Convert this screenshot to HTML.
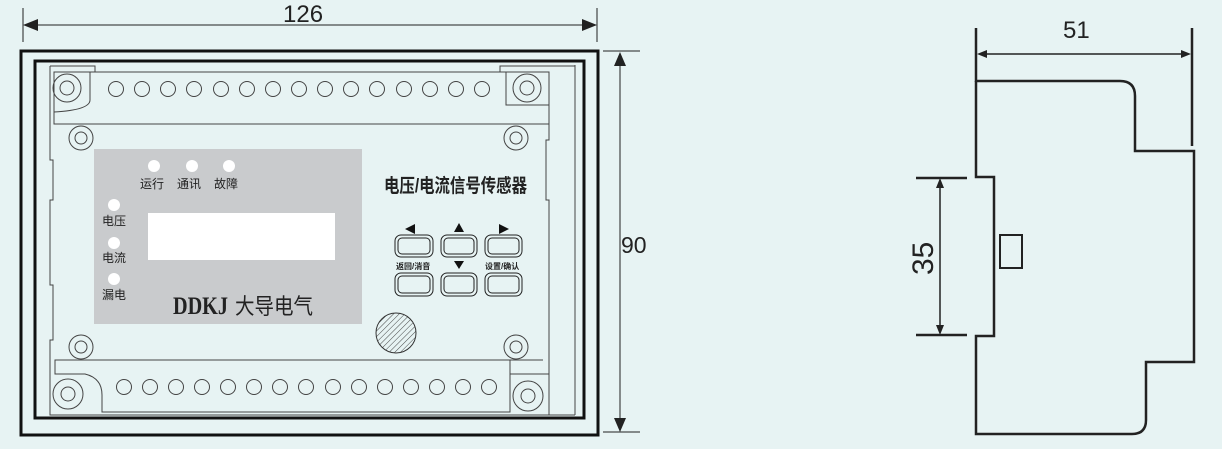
<!DOCTYPE html>
<html><head><meta charset="utf-8"><style>
html,body{margin:0;padding:0;background:#e7f3f3;}
svg{display:block;}
text{font-family:"Liberation Sans","Noto Sans CJK SC",sans-serif;fill:#222;}
</style></head><body>
<svg width="1222" height="449" viewBox="0 0 1222 449" xmlns="http://www.w3.org/2000/svg">
<defs>
<pattern id="h" width="4" height="4" patternUnits="userSpaceOnUse" patternTransform="rotate(45)">
<line x1="0" y1="0" x2="0" y2="4" stroke="#333" stroke-width="0.9"/>
</pattern>
</defs>
<rect width="1222" height="449" fill="#e7f3f3"/>
<g stroke="#222" fill="none">
<line x1="23" y1="8" x2="23" y2="42" stroke-width="1"/>
<line x1="597" y1="8" x2="597" y2="42" stroke-width="1"/>
<line x1="30" y1="25" x2="590" y2="25" stroke-width="1"/>
</g>
<polygon points="23,25 38,19 38,31" fill="#222"/>
<polygon points="597,25 582,19 582,31" fill="#222"/>
<text x="283" y="22" font-size="24">126</text>
<g stroke="#222" fill="none" stroke-width="1">
<line x1="603" y1="51" x2="640" y2="51"/>
<line x1="603" y1="432" x2="640" y2="432"/>
<line x1="620" y1="60" x2="620" y2="423"/>
</g>
<polygon points="620,52 614,66 626,66" fill="#222"/>
<polygon points="620,432 614,418 626,418" fill="#222"/>
<text x="621" y="253" font-size="23">90</text>
<rect x="21" y="51" width="577" height="384" fill="none" stroke="#111" stroke-width="3"/>
<rect x="35" y="61" width="549" height="357" fill="none" stroke="#111" stroke-width="3"/>
<g stroke="#444" fill="none" stroke-width="1">
<line x1="575" y1="65" x2="575" y2="415"/>
<path d="M50,66 L95,66 L95,72 L500,72 L500,66 L575,66"/>
<path d="M50,66 L50,160 L53,160 L53,200 L50,200 L50,285 L53,285 L53,340 L50,340 L50,415 L575,415"/>
<path d="M549,72 L549,140 L546,140 L546,200 L549,200 L549,415"/>
<rect x="54" y="72" width="495" height="52"/>
<path d="M54,72 L54,112 Q90,110 90,100 L90,72"/>
<path d="M506,72 L506,105 L549,105"/>
<circle cx="67" cy="88" r="14"/><circle cx="67" cy="88" r="7"/>
<circle cx="527" cy="88" r="14"/><circle cx="527" cy="88" r="7"/>
<circle cx="81" cy="138" r="12"/><circle cx="81" cy="138" r="6"/>
<circle cx="516" cy="138" r="12"/><circle cx="516" cy="138" r="6"/>
<circle cx="81" cy="347" r="12"/><circle cx="81" cy="347" r="6"/>
<circle cx="516" cy="347" r="12"/><circle cx="516" cy="347" r="6"/>
<path d="M510,360 L55,360 L55,374 L85,374 Q102,378 102,395 L102,412 L510,412 Z"/>
<path d="M510,360 L543,360 M510,374 L549,374"/>
<circle cx="68" cy="394" r="15"/><circle cx="68" cy="394" r="7"/>
<circle cx="528" cy="396" r="15"/><circle cx="528" cy="396" r="7"/>
</g>
<g stroke="#444" fill="none" stroke-width="1">
<circle cx="116" cy="89" r="7.5"/><circle cx="142" cy="89" r="7.5"/><circle cx="168" cy="89" r="7.5"/><circle cx="194" cy="89" r="7.5"/><circle cx="221" cy="89" r="7.5"/><circle cx="247" cy="89" r="7.5"/><circle cx="273" cy="89" r="7.5"/><circle cx="299" cy="89" r="7.5"/><circle cx="325" cy="89" r="7.5"/><circle cx="351" cy="89" r="7.5"/><circle cx="377" cy="89" r="7.5"/><circle cx="404" cy="89" r="7.5"/><circle cx="430" cy="89" r="7.5"/><circle cx="456" cy="89" r="7.5"/><circle cx="482" cy="89" r="7.5"/>
<circle cx="124" cy="387" r="7.5"/><circle cx="150" cy="387" r="7.5"/><circle cx="176" cy="387" r="7.5"/><circle cx="202" cy="387" r="7.5"/><circle cx="228" cy="387" r="7.5"/><circle cx="254" cy="387" r="7.5"/><circle cx="280" cy="387" r="7.5"/><circle cx="306" cy="387" r="7.5"/><circle cx="333" cy="387" r="7.5"/><circle cx="359" cy="387" r="7.5"/><circle cx="385" cy="387" r="7.5"/><circle cx="411" cy="387" r="7.5"/><circle cx="437" cy="387" r="7.5"/><circle cx="463" cy="387" r="7.5"/><circle cx="489" cy="387" r="7.5"/>
</g>
<rect x="94" y="149" width="268" height="175" fill="#c9cbcd"/>
<rect x="148" y="213" width="187" height="47" fill="#fff"/>
<g fill="#fff">
<circle cx="154" cy="166" r="6"/><circle cx="192" cy="166" r="6"/><circle cx="229" cy="166" r="6"/>
<circle cx="114" cy="205" r="6"/><circle cx="114" cy="243" r="6"/><circle cx="114" cy="279" r="6"/>
</g>
<g font-size="12">
<text x="140" y="188">运行</text><text x="177" y="188">通讯</text><text x="214" y="188">故障</text>
<text x="102" y="225">电压</text><text x="102" y="262">电流</text><text x="102" y="299">漏电</text>
</g>
<text x="173" y="314" font-size="25" font-weight="bold" textLength="55" lengthAdjust="spacingAndGlyphs" style="font-family:'Liberation Serif',serif;">DDKJ</text>
<text x="235" y="314" font-size="22" textLength="78" lengthAdjust="spacingAndGlyphs">大导电气</text>
<text x="384" y="192" font-size="19" font-weight="bold" textLength="143" lengthAdjust="spacingAndGlyphs">电压/电流信号传感器</text>
<g fill="none" stroke="#222" stroke-width="1">
<rect x="395" y="235" width="38" height="22" rx="6"/><rect x="398" y="238" width="32" height="16" rx="4"/>
<rect x="441" y="235" width="36" height="22" rx="6"/><rect x="444" y="238" width="30" height="16" rx="4"/>
<rect x="485" y="235" width="37" height="22" rx="6"/><rect x="488" y="238" width="31" height="16" rx="4"/>
<rect x="395" y="273" width="38" height="23" rx="6"/><rect x="398" y="276" width="32" height="17" rx="4"/>
<rect x="441" y="273" width="36" height="23" rx="6"/><rect x="444" y="276" width="30" height="17" rx="4"/>
<rect x="485" y="273" width="37" height="23" rx="6"/><rect x="488" y="276" width="31" height="17" rx="4"/>
</g>
<g fill="#111">
<polygon points="405,229 415,224 415,234"/>
<polygon points="459,223 454,232 464,232"/>
<polygon points="509,229 499,224 499,234"/>
<polygon points="459,269 454,261 464,261"/>
</g>
<text x="396" y="269" font-size="8" font-weight="bold">返回/消音</text>
<text x="485" y="269" font-size="8" font-weight="bold">设置/确认</text>
<ellipse cx="396" cy="333" rx="20" ry="20" fill="url(#h)" stroke="#333" stroke-width="1"/>
<g stroke="#222" fill="none" stroke-width="2.5">
<line x1="976" y1="28" x2="976" y2="82"/>
<line x1="1192" y1="28" x2="1192" y2="146"/>
<path d="M976,81 L1120,81 Q1135,81 1135,96 L1135,151 L1194,151 L1194,362 L1146,362 L1146,420 Q1146,434 1132,434 L976,434 L976,336 L994,336 L994,177 L976,177 L976,81"/>
<line x1="916" y1="178" x2="967" y2="178"/>
<line x1="916" y1="335" x2="967" y2="335"/>
<rect x="1000" y="235" width="22" height="33" stroke-width="2"/>
</g>
<g stroke="#222" stroke-width="1.5">
<line x1="982" y1="54" x2="1186" y2="54"/>
<line x1="940" y1="184" x2="940" y2="329"/>
</g>
<g fill="#222">
<polygon points="977,54 987,50 987,58"/><polygon points="1191,54 1181,50 1181,58"/>
<polygon points="940,178 936,188 944,188"/><polygon points="940,335 936,325 944,325"/>
</g>
<text x="1063" y="38" font-size="24">51</text>
<text x="0" y="0" font-size="30" transform="translate(933 275) rotate(-90)">35</text>
</svg>
</body></html>
